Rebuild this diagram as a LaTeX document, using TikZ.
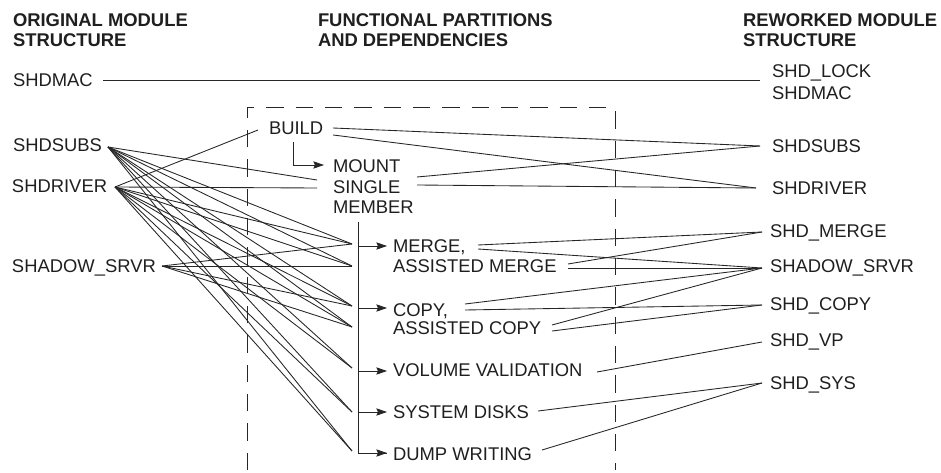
\documentclass[tikz,border=0pt]{standalone}
\usepackage{fontspec}
\setmainfont{Liberation Sans}
\usetikzlibrary{arrows.meta}

\begin{document}
\begin{tikzpicture}[x=0.75pt,y=-0.75pt,
  every node/.style={inner sep=0pt,outer sep=0pt,anchor=base west,
    font=\fontsize{13.8pt}{15pt}\selectfont, text=black!88},
  head/.style={font=\fontsize{13.8pt}{15pt}\selectfont\bfseries},
  link/.style={draw=black!85,line width=0.65pt},
  feed/.style={draw=black!85,line width=0.65pt,-{Stealth[length=8pt,width=5.5pt,inset=1.2pt]}},
  frame/.style={draw=black!85,line width=0.75pt,dash pattern=on 13pt off 9pt}]

\useasboundingbox (0,0) rectangle (941,473);

% column headings
\node[head] (hA1) at (13,27) {ORIGINAL MODULE};
\node[head] (hA2) at (13,47) {STRUCTURE};
\node[head] (hB1) at (318,27) {FUNCTIONAL PARTITIONS};
\node[head] (hB2) at (318,47) {AND DEPENDENCIES};
\node[head] (hC1) at (743,27) {REWORKED MODULE};
\node[head] (hC2) at (743,47) {STRUCTURE};

% original modules
\node (oMac)  at (13,87)  {SHDMAC};
\node (oSubs) at (13,152) {SHDSUBS};
\node (oDrv)  at (12,193) {SHDRIVER};
\node (oSrv)  at (12,273) {SHADOW\_SRVR};

% functional partitions
\node (fBuild)  at (269,135) {BUILD};
\node (fMount1) at (333,173) {MOUNT};
\node (fMount2) at (333,194) {SINGLE};
\node (fMount3) at (333,214) {MEMBER};
\node (fMerge1) at (393,253) {MERGE,};
\node (fMerge2) at (393,273) {ASSISTED MERGE};
\node (fCopy1)  at (393,317) {COPY,};
\node (fCopy2)  at (393,335) {ASSISTED COPY};
\node (fVol)    at (393,377) {VOLUME VALIDATION};
\node (fSys)    at (393,418) {SYSTEM DISKS};
\node (fDump)   at (393,460) {DUMP WRITING};

% reworked modules
\node (nLock)  at (772,78)  {SHD\_LOCK};
\node (nMac)   at (772,100) {SHDMAC};
\node (nSubs)  at (772,153) {SHDSUBS};
\node (nDrv)   at (772,195) {SHDRIVER};
\node (nMerge) at (770,238) {SHD\_MERGE};
\node (nSrv)   at (770,273) {SHADOW\_SRVR};
\node (nCopy)  at (770,311) {SHD\_COPY};
\node (nVp)    at (770,347) {SHD\_VP};
\node (nSys)   at (770,389) {SHD\_SYS};

% dashed boundary of the functional partitions
\draw[frame] (247,470) -- (247,108) -- (615,108) -- (615,470);

% connection points: original modules
\coordinate (lMac)  at (103,80);
\coordinate (lSubs) at (108,147);
\coordinate (lDrv)  at (115,187);
\coordinate (lSrv)  at (162,266);

% connection points: left side of the partitions
\coordinate (tBuild)  at (258,130);
\coordinate (tMount1) at (317,180);
\coordinate (tMount2) at (317,188);
\coordinate (tMerge)  at (352,244);
\coordinate (tAMerge) at (352,266);
\coordinate (tCopy)   at (352,306);
\coordinate (tACopy)  at (352,327);
\coordinate (tVol)    at (352,368);
\coordinate (tSys)    at (352,412);
\coordinate (tDump)   at (352,451);

% connection points: right side of the partitions
\coordinate (sBuild1)  at (333,128);
\coordinate (sBuild2)  at (333,135);
\coordinate (sMount1)  at (417,177);
\coordinate (sMount2)  at (417,185);
\coordinate (sMerge1)  at (478,245);
\coordinate (sMerge2)  at (478,249);
\coordinate (sAMerge1) at (568,264);
\coordinate (sAMerge2) at (568,268);
\coordinate (sCopy1)   at (465,304);
\coordinate (sCopy2)   at (465,310);
\coordinate (sACopy1)  at (552,325);
\coordinate (sACopy2)  at (552,331);
\coordinate (sVol)     at (597,372);
\coordinate (sSys)     at (538,411);
\coordinate (sDump)    at (542,450);

% connection points: reworked modules
\coordinate (rMac)   at (760,80);
\coordinate (rSubs)  at (760,146);
\coordinate (rDrv)   at (756,188);
\coordinate (rMerge) at (762,232);
\coordinate (rSrv)   at (762,268);
\coordinate (rCopy)  at (762,305);
\coordinate (rVp)    at (762,342);
\coordinate (rSys)   at (762,383);

% partition hierarchy
\coordinate (buildFoot)  at (293,142);
\coordinate (aMount)     at (324,165);
\coordinate (memberFoot) at (358,222);
\coordinate (aMerge) at (387,246);
\coordinate (aCopy)  at (387,308);
\coordinate (aVol)   at (387,371);
\coordinate (aSys)   at (387,412);
\coordinate (aDump)  at (387,453);

\draw[feed] (buildFoot) |- (aMount);
\draw[link] (memberFoot) |- (aDump);
\foreach \t in {aMerge,aCopy,aVol,aSys,aDump}
  \draw[feed] (memberFoot |- \t) -- (\t);

% original modules to partitions
\draw[link] (lMac) -- (rMac);
\draw[link] (lDrv) -- (tBuild);
\draw[link] (lSubs) -- (tMount1);
\draw[link] (lDrv) -- (tMount2);
\foreach \t in {tMerge,tAMerge,tCopy,tACopy,tVol,tSys,tDump}{
  \draw[link] (lSubs) -- (\t);
  \draw[link] (lDrv) -- (\t);
}
\foreach \t in {tMerge,tAMerge,tCopy,tACopy}
  \draw[link] (lSrv) -- (\t);

% partitions to reworked modules
\draw[link] (sBuild1) -- (rSubs);
\draw[link] (sBuild2) -- (rDrv);
\draw[link] (sMount1) -- (rSubs);
\draw[link] (sMount2) -- (rDrv);
\draw[link] (sMerge1) -- (rMerge);
\draw[link] (sMerge2) -- (rSrv);
\draw[link] (sAMerge1) -- (rMerge);
\draw[link] (sAMerge2) -- (rSrv);
\draw[link] (sCopy1) -- (rSrv);
\draw[link] (sCopy2) -- (rCopy);
\draw[link] (sACopy1) -- (rSrv);
\draw[link] (sACopy2) -- (rCopy);
\draw[link] (sVol) -- (rVp);
\draw[link] (sSys) -- (rSys);
\draw[link] (sDump) -- (rSys);

\end{tikzpicture}
\end{document}
